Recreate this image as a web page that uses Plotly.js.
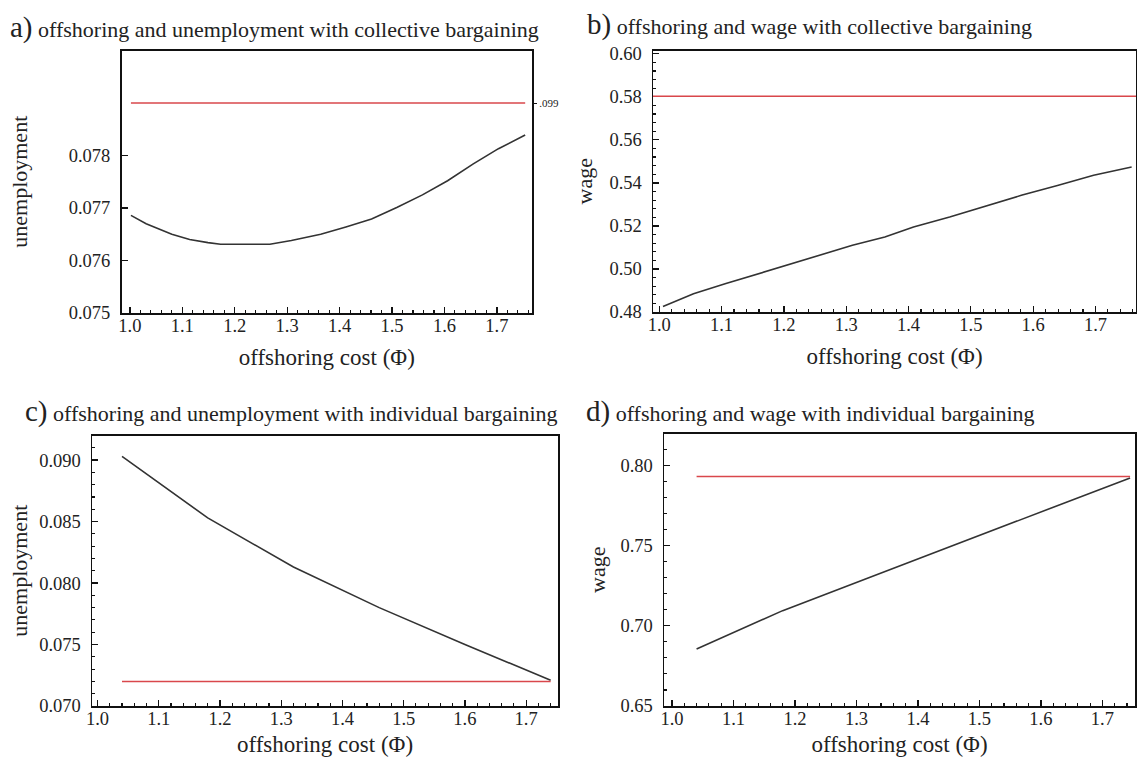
<!DOCTYPE html>
<html>
<head>
<meta charset="utf-8">
<script src="https://cdn.plot.ly/plotly-3.0.1.min.js"></script>
<style>
  html, body { margin: 0; padding: 0; background: #fff; }
  #chart { width: 1137px; height: 757px; }
</style>
</head>
<body>
<div id="chart"></div>
<script>
// ---------- data ----------
// a) collective bargaining, unemployment
const phiA   = [1.002, 1.031, 1.080, 1.114, 1.149, 1.173, 1.204, 1.267, 1.308, 1.364, 1.412, 1.461, 1.509, 1.558, 1.606, 1.655, 1.703, 1.754];
const unempA = [0.07686, 0.07670, 0.07650, 0.07640, 0.07634, 0.07631, 0.07631, 0.07631, 0.07638, 0.07650, 0.07664, 0.07679, 0.07701, 0.07725, 0.07752, 0.07784, 0.07813, 0.07839];
const redLevelA = 0.099;   // drawn on a broken axis labelled ".099"

// b) collective bargaining, wage
const phiB  = [1.006, 1.055, 1.107, 1.159, 1.205, 1.263, 1.310, 1.362, 1.408, 1.466, 1.523, 1.581, 1.639, 1.697, 1.758];
const wageB = [0.4826, 0.4885, 0.4932, 0.4978, 0.5017, 0.5071, 0.5110, 0.5148, 0.5195, 0.5241, 0.5291, 0.5342, 0.5388, 0.5435, 0.5474];
const redLevelB = 0.5803;

// c) individual bargaining, unemployment
const phiC   = [1.04, 1.18, 1.32, 1.46, 1.60, 1.74];
const unempC = [0.0903, 0.0853, 0.0813, 0.0780, 0.0750, 0.0721];
const redLevelC = 0.0720;

// d) individual bargaining, wage
const phiD  = [1.04, 1.18, 1.32, 1.46, 1.60, 1.745];
const wageD = [0.6856, 0.7095, 0.7300, 0.7505, 0.7715, 0.7923];
const redLevelD = 0.7932;

// tick labels
const xTicks  = [1.0, 1.1, 1.2, 1.3, 1.4, 1.5, 1.6, 1.7];
const yTicksA = [0.075, 0.076, 0.077, 0.078];
const yTicksB = [0.48, 0.50, 0.52, 0.54, 0.56, 0.58, 0.60];
const yTicksC = [0.070, 0.075, 0.080, 0.085, 0.090];
const yTicksD = [0.65, 0.70, 0.75, 0.80];

const titles = [
  "a)", "offshoring and unemployment with collective bargaining",
  "b)", "offshoring and wage with collective bargaining",
  "c)", "offshoring and unemployment with individual bargaining",
  "d)", "offshoring and wage with individual bargaining"
];

// ---------- style ----------
const W = 1137, H = 757;
const FONT = "Liberation Serif";
const TXT = "#222";
const BLACK = "#333";
const RED = "#d9474b";

const px = v => v / W;
const py = v => 1 - v / H;

function xAx(dom, range, anchor) {
  return {
    domain: dom, range: range, anchor: anchor,
    tickmode: "array", tickvals: xTicks, ticktext: xTicks.map(v => v.toFixed(1)),
    ticks: "inside", ticklen: 6, tickwidth: 1.3, tickcolor: "#111", ticklabelstandoff: -5,
    minor: { tickmode: "linear", tick0: 1.0, dtick: 0.02, ticks: "inside", ticklen: 3, tickwidth: 1.1, tickcolor: "#111" },
    showline: true, mirror: true, linecolor: "#111", linewidth: 1.5,
    showgrid: false, zeroline: false,
    tickfont: { family: FONT, size: 18.5, color: TXT },
    title: { text: "offshoring cost (Φ)", standoff: 14, font: { family: FONT, size: 23, color: TXT } },
    fixedrange: true
  };
}
function yAx(dom, range, anchor, ticks, fmt, minorD, title, standoff) {
  const ax = {
    domain: dom, range: range, anchor: anchor,
    tickmode: "array", tickvals: ticks, ticktext: ticks.map(v => v.toFixed(fmt)),
    ticks: "inside", ticklen: 6, tickwidth: 1.3, tickcolor: "#111", ticklabelstandoff: 6,
    showline: true, mirror: true, linecolor: "#111", linewidth: 1.5,
    showgrid: false, zeroline: false,
    tickfont: { family: FONT, size: 18.5, color: TXT },
    title: { text: title, standoff: standoff, font: { family: FONT, size: 22, color: TXT } },
    fixedrange: true
  };
  if (minorD) ax.minor = { tickmode: "linear", tick0: ticks[0], dtick: minorD, ticks: "inside", ticklen: 3, tickwidth: 1.1, tickcolor: "#111" };
  return ax;
}

const lineBlack = { color: BLACK, width: 1.6 };
const lineRed = { color: RED, width: 1.5 };

const traces = [
  { x: phiA, y: unempA, xaxis: "x", yaxis: "y", mode: "lines", line: lineBlack, hoverinfo: "skip" },
  { x: [phiA[0], phiA[phiA.length - 1]], y: [redLevelA, redLevelA], xaxis: "x", yaxis: "y5", mode: "lines", line: lineRed, hoverinfo: "skip" },
  { x: phiB, y: wageB, xaxis: "x2", yaxis: "y2", mode: "lines", line: lineBlack, hoverinfo: "skip" },
  { x: phiC, y: unempC, xaxis: "x3", yaxis: "y3", mode: "lines", line: lineBlack, hoverinfo: "skip" },
  { x: [phiC[0], phiC[phiC.length - 1]], y: [redLevelC, redLevelC], xaxis: "x3", yaxis: "y3", mode: "lines", line: lineRed, hoverinfo: "skip" },
  { x: phiD, y: wageD, xaxis: "x4", yaxis: "y4", mode: "lines", line: lineBlack, hoverinfo: "skip" },
  { x: [phiD[0], phiD[phiD.length - 1]], y: [redLevelD, redLevelD], xaxis: "x4", yaxis: "y4", mode: "lines", line: lineRed, hoverinfo: "skip" }
];

const domA = { x: [px(121.5), px(532)], y: [py(313), py(50.5)] };
const domB = { x: [px(653), px(1136)], y: [py(312), py(50.5)] };
const domC = { x: [px(92), px(558)], y: [py(706), py(435.5)] };
const domD = { x: [px(664), px(1135)], y: [py(706), py(433.5)] };

function titleAnn(i, xpx, ypx) {
  return {
    xref: "paper", yref: "paper", x: px(xpx), y: py(ypx), xanchor: "left", yanchor: "middle",
    showarrow: false, align: "left",
    text: "<span style='font-size:29px'>" + titles[2 * i] + "</span> " + titles[2 * i + 1],
    font: { family: FONT, size: 22, color: TXT }
  };
}

const layout = {
  width: W, height: H,
  margin: { l: 0, r: 0, t: 0, b: 0 },
  paper_bgcolor: "#fff", plot_bgcolor: "#fff",
  font: { family: FONT, color: TXT },
  showlegend: false,
  xaxis:  xAx(domA.x, [0.984, 1.767], "y"),
  yaxis:  yAx(domA.y, [0.075, 0.080], "x", yTicksA, 3, null, "unemployment", 35),
  yaxis5: {
    overlaying: "y", side: "right", anchor: "x", range: [0.095, 0.100],
    tickmode: "array", tickvals: [redLevelA], ticktext: [".099"],
    ticks: "outside", ticklen: 4, tickcolor: "#111", showline: false, showgrid: false, zeroline: false,
    tickfont: { family: FONT, size: 11, color: TXT }, fixedrange: true
  },
  xaxis2: xAx(domB.x, [0.99, 1.765], "y2"),
  yaxis2: yAx(domB.y, [0.48, 0.6015], "x2", yTicksB, 2, 0.004, "wage", 10),
  xaxis3: xAx(domC.x, [0.991, 1.752], "y3"),
  yaxis3: yAx(domC.y, [0.070, 0.092], "x3", yTicksC, 3, 0.001, "unemployment", 5),
  xaxis4: xAx(domD.x, [0.987, 1.753], "y4"),
  yaxis4: yAx(domD.y, [0.65, 0.82], "x4", yTicksD, 2, 0.01, "wage", 8),
  shapes: [
    { type: "line", xref: "x2 domain", yref: "y2", x0: 0, x1: 1, y0: redLevelB, y1: redLevelB, line: lineRed }
  ],
  annotations: [
    titleAnn(0, 8, 27),
    titleAnn(1, 585, 24),
    titleAnn(2, 23, 411),
    titleAnn(3, 584, 411)
  ]
};

Plotly.newPlot("chart", traces, layout, { displayModeBar: false, staticPlot: true });
</script>
</body>
</html>
